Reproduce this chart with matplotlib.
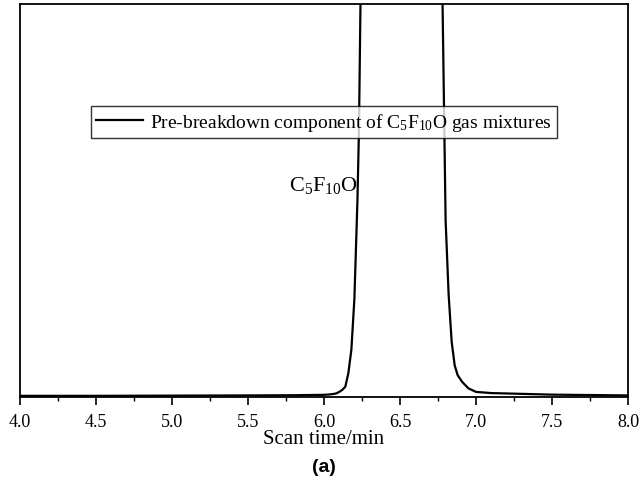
import numpy as np
import matplotlib.pyplot as plt
from matplotlib.ticker import MultipleLocator

# 色谱数据（读图估计，单位任意）
time_min = [4.0, 4.5, 5.0, 5.5, 5.8, 6.0, 6.05, 6.08, 6.10, 6.12, 6.14, 6.16, 6.18,
            6.20, 6.22, 6.23, 6.24, 6.26, 6.30, 6.40, 6.50, 6.60, 6.70, 6.74, 6.76, 6.78,
            6.80, 6.82, 6.84, 6.86, 6.88, 6.91, 6.95, 7.0, 7.1, 7.2, 7.35,
            7.5, 7.75, 8.0]
intensity = [0.3, 0.3, 0.35, 0.4, 0.45, 0.55, 0.7, 0.9, 1.3, 1.8, 2.6, 6.0, 12.0,
             25.0, 50.0, 68.0, 100.0, 150.0, 300.0, 700.0, 900.0, 700.0, 300.0, 180.0, 130.0, 100.0,
             45.0, 26.0, 14.0, 8.0, 5.5, 3.8, 2.2, 1.3, 1.0, 0.9, 0.75,
             0.6, 0.5, 0.4]

legend_label = r'Pre-breakdown component of C$_5$F$_{10}$O gas mixtures'
peak_label = r'C$_5$F$_{10}$O'

plt.rcParams['font.family'] = ['Liberation Serif', 'DejaVu Serif']
plt.rcParams['mathtext.fontset'] = 'custom'
plt.rcParams['mathtext.rm'] = 'Liberation Serif'
plt.rcParams['mathtext.it'] = 'Liberation Serif:italic'

fig = plt.figure(figsize=(6.39, 4.81), dpi=100)
ax = fig.add_axes([20 / 639, 1 - 398 / 481, 608 / 639, 393 / 481])

ax.plot(time_min, intensity, color='black', linewidth=1.6, label=legend_label)

ax.set_xlim(4.0, 8.0)
ax.set_ylim(0, 100)
ax.xaxis.set_major_locator(MultipleLocator(0.5))
ax.xaxis.set_minor_locator(MultipleLocator(0.25))
ax.set_yticks([])
ax.tick_params(axis='x', which='major', direction='out', length=5.5, width=1.2, labelsize=13, pad=6)
ax.tick_params(axis='x', which='minor', direction='out', length=3, width=1.0)
for sp in ax.spines.values():
    sp.set_linewidth(1.3)

ax.set_xlabel('Scan time/min', fontsize=15)
ax.xaxis.set_label_coords(0.5, -0.082)

ax.text(6.225, 54, peak_label, fontsize=16, ha='right', va='center')

leg = ax.legend(loc='center', bbox_to_anchor=(0.5, 0.70), fontsize=14, frameon=True,
                fancybox=False, edgecolor='black', handlelength=2.4, handletextpad=0.4,
                borderpad=0.25)
leg.get_frame().set_linewidth(1.0)

fig.text(0.507, 1 - 468 / 481, '(a)', fontsize=14, fontweight='bold',
         family='Liberation Sans', ha='center', va='center')

fig.savefig('out.png', dpi=100)
